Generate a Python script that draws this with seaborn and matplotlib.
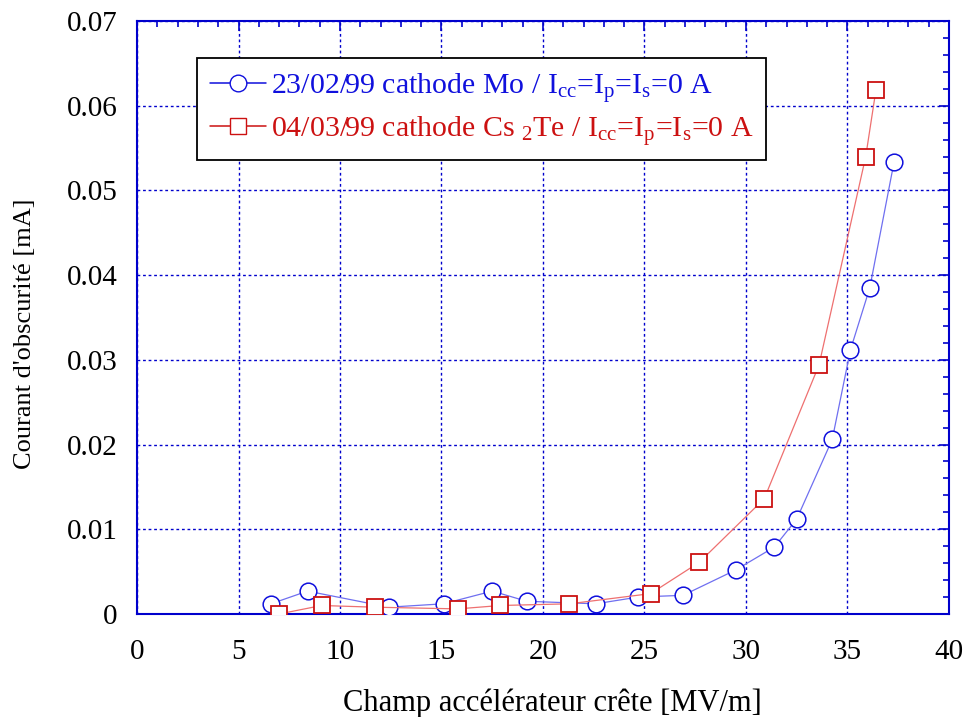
import matplotlib
matplotlib.use("Agg")
import matplotlib.pyplot as plt
from matplotlib.lines import Line2D
from matplotlib.ticker import MultipleLocator
import seaborn as sns
import pandas as pd

# Data
mo_field = [6.6, 8.4, 12.4, 15.1, 17.5, 19.2, 22.6, 24.7, 26.9, 29.5, 31.4, 32.5, 34.25, 35.15, 36.1, 37.3]
mo_current = [0.0012, 0.0027, 0.0008, 0.0012, 0.0027, 0.0015, 0.0012, 0.0020, 0.0022, 0.0052, 0.0079, 0.0112, 0.0206, 0.0312, 0.0385, 0.0534]
cs_field = [7.0, 9.1, 11.7, 15.8, 17.9, 21.3, 25.3, 27.7, 30.9, 33.6, 35.9, 36.4]
cs_current = [0.0000, 0.0010, 0.0008, 0.0006, 0.0010, 0.0012, 0.0024, 0.0061, 0.0136, 0.0294, 0.0540, 0.0618]

label_mo = r"23/02/99 cathode Mo / I$_{\mathregular{cc}}$=I$_{\mathregular{p}}$=I$_{\mathregular{s}}$=0 A"
label_cs = r"04/03/99 cathode Cs $_{\mathregular{2}}$Te / I$_{\mathregular{cc}}$=I$_{\mathregular{p}}$=I$_{\mathregular{s}}$=0 A"
x_label = "Champ accélérateur crête [MV/m]"
y_label = "Courant d'obscurité [mA]"

sns.set_theme(style="white")
plt.rcParams["font.family"] = ["Liberation Serif", "DejaVu Serif"]
plt.rcParams["mathtext.fontset"] = "custom"
plt.rcParams["mathtext.rm"] = "Liberation Serif"
plt.rcParams["mathtext.it"] = "Liberation Serif"

BLUE = "#1010dd"
BLUE_L = "#6f6ff0"
RED = "#cc1111"
RED_L = "#ee7070"
AX = "#0000cc"

fig = plt.figure(figsize=(9.69, 7.17), dpi=100)
ax = fig.add_axes([0.1414, 0.1437, 0.8379, 0.827])

df_mo = pd.DataFrame({"x": mo_field, "y": mo_current})
df_cs = pd.DataFrame({"x": cs_field, "y": cs_current})

sns.lineplot(data=df_mo, x="x", y="y", ax=ax, sort=False, color=BLUE_L, lw=0.9,
             marker="o", markersize=12, mfc="white", mec=BLUE, mew=1.1, zorder=3)
sns.lineplot(data=df_cs, x="x", y="y", ax=ax, sort=False, color=RED_L, lw=0.9,
             marker="s", markersize=11, mfc="white", mec=RED, mew=1.3, zorder=4)

ax.set_xlim(0, 40)
ax.set_ylim(0, 0.07)
ax.xaxis.set_major_locator(MultipleLocator(5))
ax.xaxis.set_minor_locator(MultipleLocator(1))
ax.yaxis.set_major_locator(MultipleLocator(0.01))
ax.yaxis.set_minor_locator(MultipleLocator(0.002))
ax.set_xticklabels([f"{int(v)}" for v in ax.get_xticks()])
ax.set_yticklabels(["0" if abs(v) < 1e-9 else f"{v:.2f}" for v in ax.get_yticks()])

ax.grid(True, which="major", color=AX, linestyle=(0, (2, 2)), linewidth=1.0)
ax.set_axisbelow(True)
for s in ax.spines.values():
    s.set_color(AX)
    s.set_linewidth(1.5)
ax.tick_params(which="both", direction="in", top=True, right=True, color=AX,
               labelsize=21, labelcolor="black")
ax.tick_params(axis="x", which="major", pad=18)
ax.tick_params(axis="y", which="major", pad=14)
ax.tick_params(which="major", length=7, width=1.2)
ax.tick_params(which="minor", length=4.5, width=1.2)

ax.set_xlabel(x_label, fontsize=22, color="black")
ax.set_ylabel(y_label, fontsize=19, color="black")
ax.xaxis.set_label_coords(0.512, -0.125)
ax.yaxis.set_label_coords(-0.124, 0.472)

handles = [
    Line2D([], [], color=BLUE, lw=1.1, marker="o", markersize=12, mfc="white", mec=BLUE),
    Line2D([], [], color=RED, lw=1.1, marker="s", markersize=12, mfc="white", mec=RED),
]
leg = ax.legend(handles, [label_mo, label_cs], loc="upper left",
                bbox_to_anchor=(0.074, 0.9376), borderaxespad=0, fontsize=21.5,
                frameon=True, fancybox=False, edgecolor="black", framealpha=1,
                handlelength=1.9, handletextpad=0.15, borderpad=0.42, labelspacing=0.3)
leg.get_frame().set_linewidth(1.3)
for t, c in zip(leg.get_texts(), [BLUE, RED]):
    t.set_color(c)

fig.savefig("out.png", dpi=100)
